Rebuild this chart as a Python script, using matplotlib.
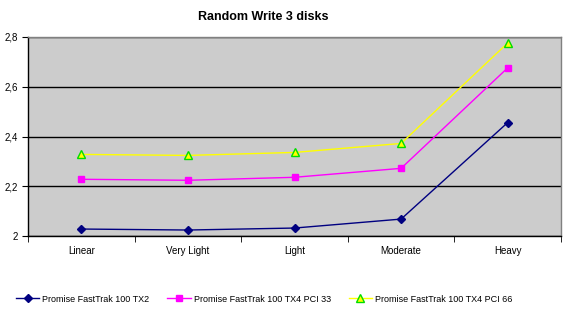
import matplotlib
matplotlib.use("Agg")
import matplotlib.pyplot as plt
import numpy as np
from matplotlib.ticker import FuncFormatter, FixedLocator

categories = ["Linear", "Very Light", "Light", "Moderate", "Heavy"]
tx2 = [2.028, 2.024, 2.032, 2.068, 2.456]
tx4_pci33 = [2.228, 2.224, 2.236, 2.272, 2.676]
tx4_pci66 = [2.328, 2.324, 2.336, 2.372, 2.776]
series_names = ["Promise FastTrak 100 TX2", "Promise FastTrak 100 TX4 PCI 33",
                "Promise FastTrak 100 TX4 PCI 66"]
yticks = [2.0, 2.2, 2.4, 2.6, 2.8]

plt.rcParams['font.family'] = ['Liberation Sans', 'DejaVu Sans']
fig = plt.figure(figsize=(5.66, 3.2), dpi=100)
ax = fig.add_axes([28/566, 1-236/320, (561-28)/566, (236-37)/320])
ax.set_facecolor('#CCCCCC')

x = np.arange(len(categories))
ax.plot(x, tx2, color='#000080', lw=1, marker='D', ms=4.5, mfc='#000080', mec='#000080', label=series_names[0])
ax.plot(x, tx4_pci33, color='#FF00FF', lw=1, marker='s', ms=5, mfc='#FF00FF', mec='#FF00FF', label=series_names[1])
ax.plot(x, tx4_pci66, color='#FFFF00', lw=1, marker='^', ms=6, mfc='#FFFF00', mec='#00DD00', mew=1, label=series_names[2])

ax.set_xlim(-0.5, len(categories) - 0.5)
ax.set_ylim(2.0, 2.8)
ax.set_xticks(x)
ax.set_xticklabels(categories, fontsize=7)
ax.xaxis.set_minor_locator(FixedLocator(np.arange(-0.5, len(categories), 1.0)))
ax.tick_params(axis='x', which='major', length=0, pad=7)
ax.tick_params(axis='x', which='minor', length=4, direction='out', color='black')
ax.set_yticks(yticks)
ax.yaxis.set_major_formatter(FuncFormatter(lambda v, p: ("%g" % v).replace('.', ',')))
ax.tick_params(axis='y', length=4, direction='out', labelsize=7, pad=3)
ax.grid(axis='y', color='black', lw=1)
ax.set_axisbelow(True)
for s in ['top', 'right']:
    ax.spines[s].set_color('#808080')
    ax.spines[s].set_linewidth(1)
for s in ['left', 'bottom']:
    ax.spines[s].set_color('black')
    ax.spines[s].set_linewidth(1)

fig.text(263/566, 1-17/320, "Random Write 3 disks", ha='center', va='center', fontsize=9, fontweight='bold')
fig.legend(loc='center left', bbox_to_anchor=(16/566, 1-299/320), ncol=3, frameon=False, fontsize=6.5,
           handlelength=2.6, columnspacing=2.0, handletextpad=0.3, borderaxespad=0, borderpad=0)

fig.savefig("out.png", dpi=100)
